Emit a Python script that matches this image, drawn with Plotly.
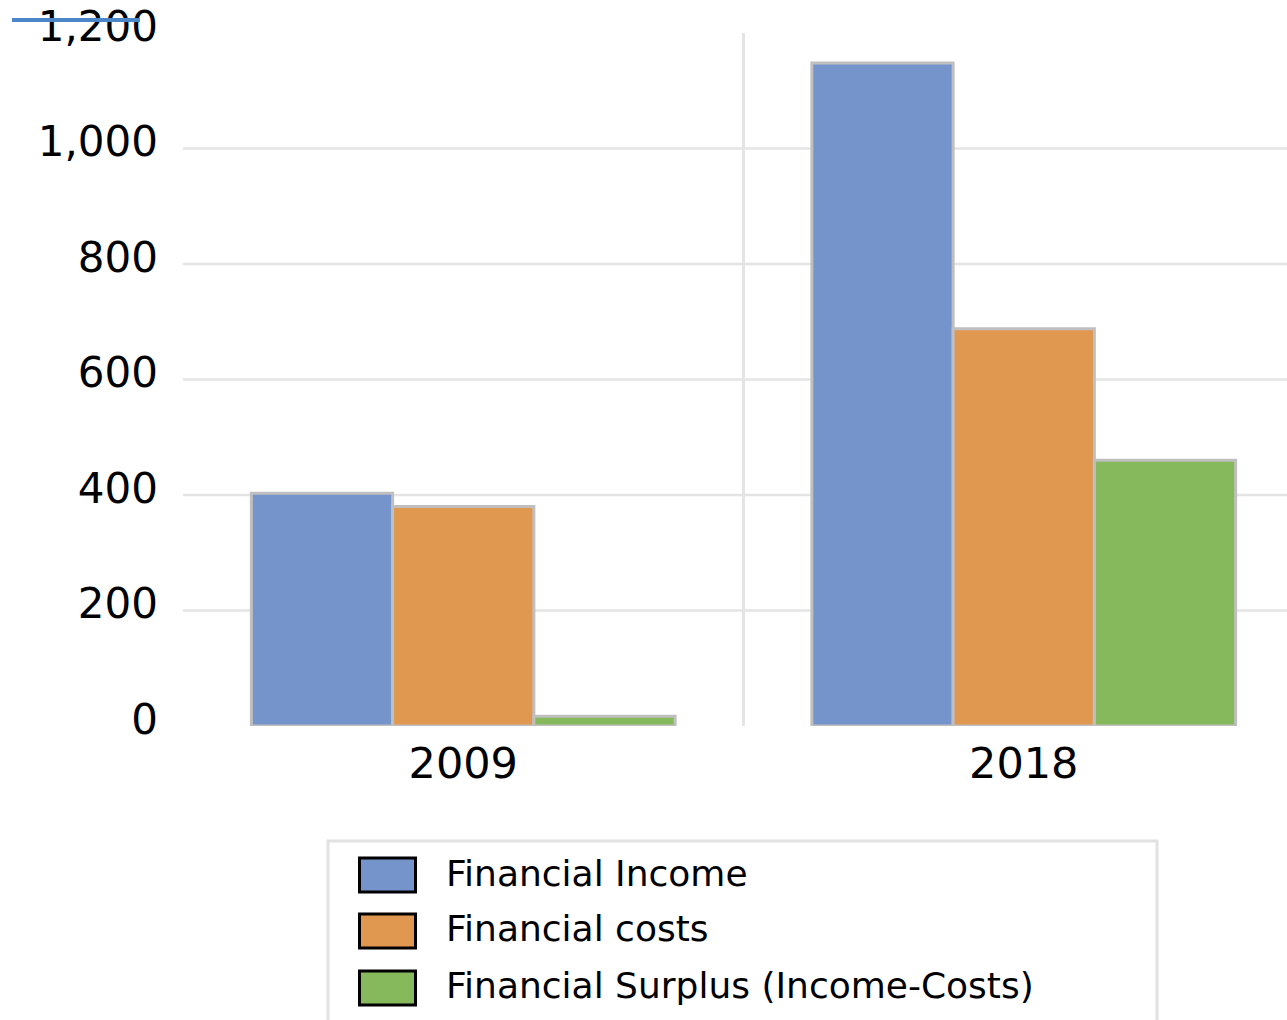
import plotly.graph_objects as go

# Data
years = ["2009", "2018"]
series_names = ["Financial Income", "Financial costs", "Financial Surplus (Income-Costs)"]
income = [403, 1148]
costs = [380, 688]
surplus = [17, 460]
series_values = [income, costs, surplus]
series_colors = ["#7494CB", "#E0974F", "#85B95B"]
y_ticks = [0, 200, 400, 600, 800, 1000, 1200]
grid_values = [200, 400, 600, 800, 1000]

W, H = 1287, 1020
M_L, M_R, M_T, M_B = 183, 0, 33, 294
PLOT_W = W - M_L - M_R
PLOT_H = H - M_T - M_B


def px_x(px):
    """Convert a horizontal pixel position to paper coordinates."""
    return (px - M_L) / PLOT_W


def px_y(py):
    """Convert a vertical pixel position (from top) to paper coordinates."""
    return (H - M_B - py) / PLOT_H


fig = go.Figure()
for name, vals, col in zip(series_names, series_values, series_colors):
    fig.add_trace(go.Bar(
        x=years, y=vals, name=name,
        marker=dict(color=col, line=dict(color="#BFBFBF", width=3)),
        showlegend=False,
    ))

shapes = []
# horizontal gridlines
for g in grid_values:
    shapes.append(dict(type="line", xref="paper", yref="y", x0=0, x1=1, y0=g, y1=g,
                       line=dict(color="#E4E4E4", width=2.5), layer="below"))
# category separator
shapes.append(dict(type="line", xref="x", yref="y", x0=0.5, x1=0.5, y0=0, y1=y_ticks[-1],
                   line=dict(color="#E4E4E4", width=3), layer="below"))
# short blue stroke at the top-left corner
shapes.append(dict(type="line", xref="paper", yref="paper",
                   x0=px_x(12), x1=px_x(140), y0=px_y(20), y1=px_y(20),
                   line=dict(color="#4A86C8", width=4)))
# legend frame
shapes.append(dict(type="rect", xref="paper", yref="paper",
                   x0=px_x(328), x1=px_x(1157), y0=px_y(841), y1=px_y(1040),
                   line=dict(color="#E2E2E2", width=3), fillcolor="rgba(0,0,0,0)"))

annotations = []
row_centers = [875, 931, 988]
for name, col, cy in zip(series_names, series_colors, row_centers):
    shapes.append(dict(type="rect", xref="paper", yref="paper",
                       x0=px_x(359.5), x1=px_x(415.5), y0=px_y(cy - 17), y1=px_y(cy + 17),
                       fillcolor=col, line=dict(color="#000000", width=3)))
    annotations.append(dict(xref="paper", yref="paper", x=px_x(444), y=px_y(cy - 2),
                            text=name, showarrow=False, xanchor="left", yanchor="middle",
                            font=dict(family="DejaVu Sans", size=36, color="#000000")))

fig.update_layout(
    width=W, height=H,
    margin=dict(l=M_L, r=M_R, t=M_T, b=M_B),
    paper_bgcolor="white", plot_bgcolor="white",
    barmode="group", bargap=0.244, bargroupgap=0,
    shapes=shapes, annotations=annotations,
    font=dict(family="DejaVu Sans", color="#000000"),
    showlegend=False,
)
fig.update_xaxes(type="category", range=[-0.5, -0.5 + PLOT_W / 560.5],
                 showgrid=False, zeroline=False, showline=False, ticks="",
                 tickfont=dict(size=43, color="#000000"), ticklabelstandoff=8)
fig.update_yaxes(range=[0, 1200], tickvals=y_ticks, tickformat=",d",
                 showgrid=False, zeroline=False, showline=False, ticks="",
                 tickfont=dict(size=42, color="#000000"),
                 ticklabelstandoff=24, ticklabelshift=-7)

fig.write_html("out.html")
